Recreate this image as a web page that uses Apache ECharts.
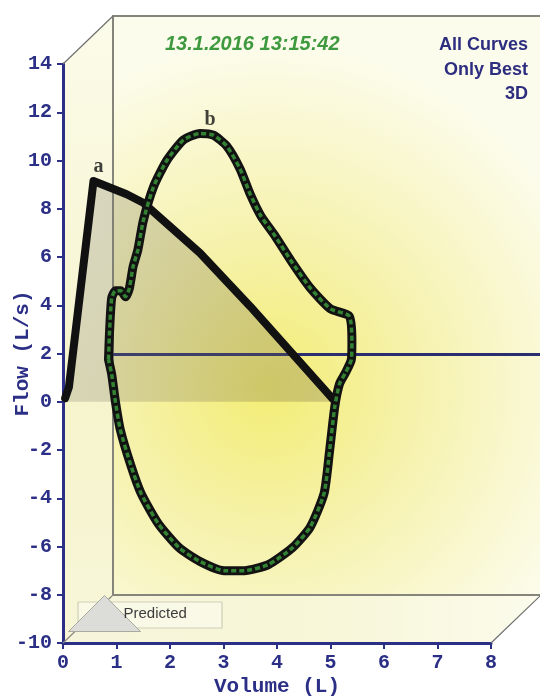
<!DOCTYPE html>
<html><head><meta charset="utf-8">
<script src="https://cdn.jsdelivr.net/npm/echarts@6/dist/echarts.min.js"></script>
<style>html,body{margin:0;padding:0;background:#fff}#c{width:540px;height:696px}</style>
</head><body><div id="c"></div>
<script>
// ---- data (front-plane coordinates: Volume L, Flow L/s) ----
const xTickMin = 0, xTickMax = 8, xTickStep = 1;
const yTickMin = -10, yTickMax = 14, yTickStep = 2;

const predictedVol  = [0.04, 0.11, 0.57, 1.19, 1.50, 2.56, 3.50, 5.05];
const predictedFlow = [0.15, 0.60, 9.15, 8.60, 8.25, 6.17, 3.95, 0.10];

const loopVol  = [0.85, 0.87, 0.91, 0.98, 1.08, 1.17, 1.24, 1.31, 1.40, 1.50, 1.69, 1.94, 2.25, 2.56, 2.81, 3.06, 3.31, 3.50, 3.70, 3.97, 4.29, 4.62, 5.00, 5.35, 5.40, 5.39, 5.28, 5.17, 5.08, 4.98, 4.88, 4.62, 4.29, 3.84, 3.39, 3.01, 2.56, 2.17, 1.78, 1.46, 1.27, 1.07, 0.98, 0.91, 0.85];
const loopFlow = [1.75, 2.90, 4.30, 4.60, 4.60, 4.35, 4.70, 5.60, 6.30, 7.50, 8.90, 10.00, 10.85, 11.12, 11.05, 10.60, 9.65, 8.60, 7.70, 6.85, 5.75, 4.72, 3.85, 3.55, 2.50, 1.75, 1.20, 0.75, -0.20, -2.10, -3.80, -5.20, -6.05, -6.75, -7.00, -7.00, -6.62, -6.05, -5.05, -3.80, -2.65, -1.15, 0.00, 1.14, 1.75];

const curveLabels = ['a', 'b'];
const legendNames = ['Predicted'];
const dateText = '13.1.2016 13:15:42';
const infoText = ['All Curves', 'Only Best', '3D'];

// ---- build ----
const zip = (a, b) => a.map((v, i) => [v, b[i]]);
const predictedData = zip(predictedVol, predictedFlow);
const loopData = zip(loopVol, loopFlow);
const peakA = predictedFlow.indexOf(Math.max(...predictedFlow));
const peakB = loopFlow.indexOf(Math.max(...loopFlow));

const NAVY = '#2b2f86';
const MONO = 'Liberation Mono';

const chart = echarts.init(document.getElementById('c'), null, {renderer: 'canvas'});

const backGrid = {left: 113, top: 16, width: 428, height: 579, show: true,
  outerBoundsMode: 'none', containLabel: false,
  borderColor: '#85857c', borderWidth: 2,
  backgroundColor: {type: 'radial', x: 0.36, y: 0.64, r: 0.8,
    colorStops: [{offset: 0, color: '#f3ed74'}, {offset: 0.45, color: '#f6f2ae'}, {offset: 1, color: '#fcfcec'}]}};
const frontGrid = {left: 63, top: 64, width: 428, height: 579, show: false,
  outerBoundsMode: 'none', containLabel: false};

const option = {
  backgroundColor: '#ffffff',
  animation: false,
  title: [
    {text: dateText, left: 165, top: 34, padding: 0,
      textStyle: {color: '#3f9a3f', fontSize: 20, fontStyle: 'italic', fontWeight: 'bold', fontFamily: 'Liberation Sans'}}
  ],
  grid: [backGrid, frontGrid],
  legend: {
    data: [{name: legendNames[0], icon: 'triangle',
      itemStyle: {color: '#dcdcd8', borderColor: '#a9a9a0', borderWidth: 1}}],
    left: 68, top: 595, itemWidth: 72, itemHeight: 36, padding: 0,
    textStyle: {color: '#3c3c3c', fontSize: 15, fontFamily: 'Liberation Sans', padding: [0, 0, 0, -22]},
    z: 20
  },
  xAxis: [
    {gridIndex: 0, type: 'value', min: xTickMin, max: xTickMax, interval: xTickStep,
      axisLine: {show: true, onZero: true, lineStyle: {color: '#2a2d70', width: 3}},
      axisTick: {show: false}, axisLabel: {show: false}, splitLine: {show: false}},
    {gridIndex: 1, type: 'value', min: xTickMin, max: xTickMax, interval: xTickStep,
      name: 'Volume (L)', nameLocation: 'middle', nameGap: 33, nameMoveOverlap: false,
      nameTextStyle: {color: NAVY, fontFamily: MONO, fontWeight: 'bold', fontSize: 21},
      axisLine: {show: true, onZero: false, lineStyle: {color: NAVY, width: 3}},
      axisTick: {show: true, length: 6, lineStyle: {color: NAVY, width: 2}},
      axisLabel: {color: NAVY, fontFamily: MONO, fontWeight: 'bold', fontSize: 20, margin: 10},
      splitLine: {show: false}}
  ],
  yAxis: [
    {gridIndex: 0, type: 'value', min: yTickMin, max: yTickMax, interval: yTickStep,
      axisLine: {show: false}, axisTick: {show: false}, axisLabel: {show: false}, splitLine: {show: false}},
    {gridIndex: 1, type: 'value', min: yTickMin, max: yTickMax, interval: yTickStep,
      name: 'Flow (L/s)', nameLocation: 'middle', nameGap: 30, nameMoveOverlap: false,
      nameTextStyle: {color: NAVY, fontFamily: MONO, fontWeight: 'bold', fontSize: 21},
      axisLine: {show: true, onZero: false, lineStyle: {color: NAVY, width: 3}},
      axisTick: {show: true, length: 6, lineStyle: {color: NAVY, width: 2}},
      axisLabel: {color: NAVY, fontFamily: MONO, fontWeight: 'bold', fontSize: 20, margin: 11},
      splitLine: {show: false}}
  ],
  series: [
    {name: legendNames[0], type: 'line', xAxisIndex: 1, yAxisIndex: 1, data: predictedData,
      showSymbol: false, z: 3,
      lineStyle: {color: '#111', width: 8, join: 'round', cap: 'round'},
      itemStyle: {color: '#dcdcd8'},
      areaStyle: {origin: 'auto', color: {type: 'linear', x: 0, y: 0, x2: 1, y2: 0,
        colorStops: [{offset: 0, color: 'rgba(120,118,105,0.35)'}, {offset: 1, color: 'rgba(110,100,60,0.42)'}]}}},
    {name: 'Best', type: 'line', xAxisIndex: 1, yAxisIndex: 1, data: loopData,
      showSymbol: false, smooth: 0.2, z: 4,
      lineStyle: {color: '#121212', width: 9, join: 'round', cap: 'round'}},
    {name: 'BestCore', type: 'line', xAxisIndex: 1, yAxisIndex: 1, data: loopData,
      showSymbol: false, smooth: 0.2, z: 5,
      lineStyle: {color: '#3a963a', width: 3.5, type: [5, 3], opacity: 0.85}},
    {name: 'labels', type: 'scatter', xAxisIndex: 1, yAxisIndex: 1, symbolSize: 0, z: 6,
      data: [
        {value: predictedData[peakA], label: {formatter: curveLabels[0], offset: [5, 0]}},
        {value: loopData[peakB], label: {formatter: curveLabels[1], offset: [10, 0]}}
      ],
      label: {show: true, position: 'top', distance: 4, color: '#111', fontSize: 20,
        fontWeight: 'bold', fontFamily: 'Liberation Serif'}}
  ]
};
chart.setOption(option);

const front = (p) => chart.convertToPixel({xAxisIndex: 1, yAxisIndex: 1}, p);
const back = (p) => chart.convertToPixel({xAxisIndex: 0, yAxisIndex: 0}, p);
const fTL = front([xTickMin, yTickMax]), fBL = front([xTickMin, yTickMin]), fBR = front([xTickMax, yTickMin]);
const bTL = back([xTickMin, yTickMax]), bBL = back([xTickMin, yTickMin]), bBR = back([xTickMax, yTickMin]);

chart.setOption({graphic: [
  {type: 'polygon', z: -5, silent: true, shape: {points: [fTL, bTL, bBL, fBL]},
    style: {fill: {type: 'linear', x: 0, y: 0, x2: 0, y2: 1, colorStops: [{offset: 0, color: '#fbfbea'}, {offset: 0.6, color: '#f6f4cc'}, {offset: 1, color: '#f7f6d8'}]}}},
  {type: 'polygon', z: -5, silent: true, shape: {points: [fBL, bBL, bBR, fBR]},
    style: {fill: {type: 'linear', x: 0, y: 0, x2: 1, y2: 0, colorStops: [{offset: 0, color: '#f6f5dc'}, {offset: 0.5, color: '#f7f6d6'}, {offset: 1, color: '#fbfbec'}]}}},
  {type: 'line', z: 1, silent: true, shape: {x1: fTL[0], y1: fTL[1], x2: bTL[0], y2: bTL[1]}, style: {stroke: '#707070', lineWidth: 1.2}},
  {type: 'line', z: 1, silent: true, shape: {x1: fBL[0], y1: fBL[1], x2: bBL[0], y2: bBL[1]}, style: {stroke: '#8a8a80', lineWidth: 1.2}},
  {type: 'line', z: 1, silent: true, shape: {x1: fBR[0], y1: fBR[1], x2: bBR[0], y2: bBR[1]}, style: {stroke: '#707070', lineWidth: 1.2}},
  {type: 'rect', z: 10, silent: true, shape: {x: 78, y: 602, width: 144, height: 26},
    style: {fill: 'rgba(252,252,240,0.6)', stroke: '#cfcfb8', lineWidth: 1.2}},
  {type: 'text', z: 10, silent: true, style: {text: infoText.join('\n'), x: 528, y: 33, align: 'right', verticalAlign: 'top',
    fill: '#2e2e80', font: 'bold 18px "Liberation Sans"', lineHeight: 24.5}}
]});
</script>
</body></html>
